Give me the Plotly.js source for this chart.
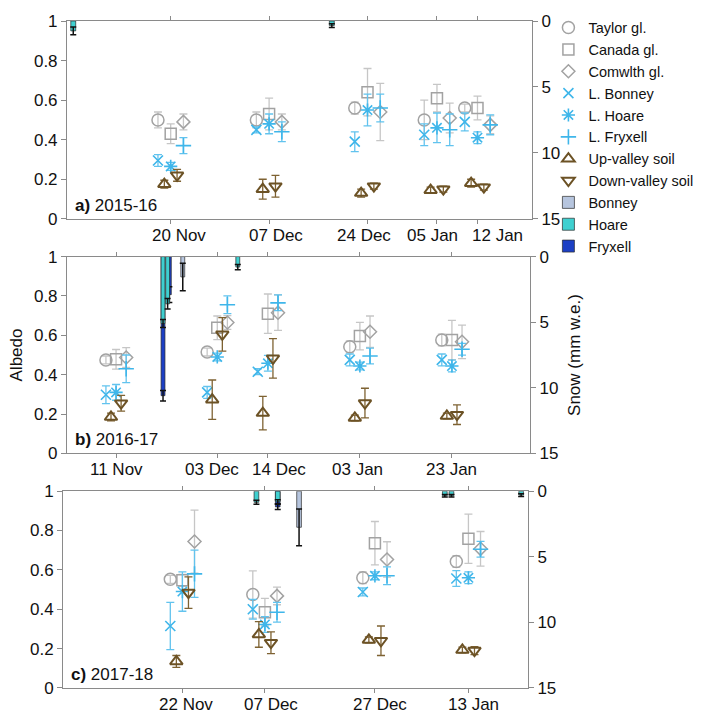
<!DOCTYPE html>
<html><head><meta charset="utf-8">
<script src="https://cdn.plot.ly/plotly-3.0.1.min.js"></script>
<style>html,body{margin:0;padding:0;background:#fff}#chart{width:725px;height:716px}</style>
</head><body><div id="chart"></div>
<script>
// ---------- DATA ----------
const seriesNames = ['Taylor gl.','Canada gl.','Comwlth gl.','L. Bonney','L. Hoare','L. Fryxell','Up-valley soil','Down-valley soil'];
const panelLabels = ['<b>a)</b> 2015-16','<b>b)</b> 2016-17','<b>c)</b> 2017-18'];

// sampling dates (ticks) and their labels per season
const datesA = ['2015-11-20','2015-12-07','2015-12-24','2016-01-05','2016-01-12'];
const datesB = ['2016-11-11','2016-12-03','2016-12-14','2017-01-03','2017-01-23'];
const datesC = ['2017-11-22','2017-12-07','2017-12-27','2018-01-13'];
const tickLabelsA = ['20 Nov','07 Dec','24 Dec','05 Jan','12 Jan'];
const tickLabelsB = ['11 Nov','03 Dec','14 Dec','03 Jan','23 Jan'];
const tickLabelsC = ['22 Nov','07 Dec','27 Dec','13 Jan'];

// Albedo, 2015-16
const taylorA   = [0.50, 0.50, 0.56, 0.50, 0.56];  const taylorAErr   = [0.04, 0.04, 0.03, 0.10, 0.02];
const canadaA   = [0.43, 0.53, 0.64, 0.61, 0.56];  const canadaAErr   = [0.05, 0.08, 0.12, 0.07, 0.06];
const comwlthA  = [0.49, 0.49, 0.54, 0.51, 0.475]; const comwlthAErr  = [0.04, 0.04, 0.145, 0.075, 0.045];
const bonneyA   = [0.295, 0.45, 0.39, 0.425, 0.49]; const bonneyAErr  = [0.03, 0.015, 0.05, 0.055, 0.045];
const hoareA    = [0.265, 0.48, 0.55, 0.46, 0.41]; const hoareAErr    = [0.02, 0.05, 0.08, 0.075, 0.03];
const fryxellA  = [0.37, 0.44, 0.56, 0.45, 0.475]; const fryxellAErr  = [0.04, 0.05, 0.07, 0.08, 0.05];
const upSoilA   = [0.175, 0.15, 0.13, 0.145, 0.18]; const upSoilAErr  = [0.02, 0.05, 0.02, 0.015, 0.02];
const downSoilA = [0.22, 0.165, 0.165, 0.15, 0.16]; const downSoilAErr = [0.03, 0.055, 0.015, 0.015, 0.015];

// Albedo, 2016-17
const taylorB   = [0.475, 0.515, null, 0.542, 0.576]; const taylorBErr = [0.02, 0.02, 0, 0.03, 0.03];
const canadaB   = [0.478, 0.638, 0.71, 0.596, 0.576]; const canadaBErr = [0.05, 0.06, 0.10, 0.07, 0.10];
const comwlthB  = [0.487, 0.665, 0.715, 0.618, 0.567]; const comwlthBErr = [0.05, 0.035, 0.09, 0.08, 0.085];
const bonneyB   = [0.298, 0.31, 0.415, 0.475, 0.475]; const bonneyBErr = [0.045, 0.03, 0.015, 0.03, 0.03];
const hoareB    = [0.31, 0.49, 0.458, 0.444, 0.444];   const hoareBErr  = [0.04, 0.02, 0.04, 0.02, 0.03];
const fryxellB  = [0.43, 0.755, 0.765, 0.495, 0.529];  const fryxellBErr = [0.07, 0.045, 0.04, 0.04, 0.03];
const upSoilB   = [0.185, 0.273, 0.205, 0.18, 0.19];   const upSoilBErr = [0.02, 0.10, 0.085, 0.015, 0.015];
const downSoilB = [0.255, 0.605, 0.483, 0.256, 0.197]; const downSoilBErr = [0.04, 0.085, 0.10, 0.075, 0.05];

// Albedo, 2017-18
const taylorC   = [0.552, 0.475, 0.56, 0.643]; const taylorCErr   = [0.02, 0.12, 0.03, 0.03];
const canadaC   = [0.547, 0.385, 0.736, 0.758]; const canadaCErr  = [0.03, 0.07, 0.11, 0.125];
const comwlthC  = [0.744, 0.468, 0.653, 0.707]; const comwlthCErr = [0.16, 0.045, 0.09, 0.088];
const bonneyC   = [0.315, 0.40, 0.488, 0.556]; const bonneyCErr   = [0.12, 0.05, 0.02, 0.04];
const hoareC    = [0.49, 0.323, 0.57, 0.56];   const hoareCErr    = [0.10, 0.04, 0.02, 0.03];
const fryxellC  = [0.58, 0.385, 0.57, 0.705];  const fryxellCErr  = [0.12, 0.05, 0.045, 0.04];
const upSoilC   = [0.135, 0.272, 0.244, 0.193]; const upSoilCErr  = [0.03, 0.065, 0.015, 0.015];
const downSoilC = [0.485, 0.23, 0.24, 0.19];   const downSoilCErr = [0.08, 0.055, 0.075, 0.02];

// Snow (mm w.e.) bars
const hoareSnowDatesA = ['2015-11-03 04:00', '2015-12-17 20:00'];
const hoareSnowA = [0.75, 0.35]; const hoareSnowAErr = [0.3, 0.15];

const bonneySnowDatesB = ['2016-11-25 12:00'];
const bonneySnowB = [1.55]; const bonneySnowBErr = [1.05];
const hoareSnowDatesB = ['2016-11-21 05:00', '2016-11-22 05:00', '2016-12-07 11:00'];
const hoareSnowB = [5.1, 3.6, 0.8]; const hoareSnowBErr = [0.3, 0.4, 0.2];
const fryxellSnowDatesB = ['2016-11-21 05:00', '2016-11-22 14:00'];
const fryxellSnowB = [10.6, 2.9]; const fryxellSnowBErr = [0.4, 0.6];

const bonneySnowDatesC = ['2017-12-13 05:00'];
const bonneySnowC = [2.75]; const bonneySnowCErr = [1.4];
const hoareSnowDatesC = ['2017-12-05 11:00', '2017-12-09 08:00', '2018-01-08 17:00', '2018-01-09 22:00', '2018-01-22 14:00'];
const hoareSnowC = [0.85, 0.8, 0.35, 0.35, 0.3]; const hoareSnowCErr = [0.15, 0.15, 0.1, 0.1, 0.1];
const fryxellSnowDatesC = ['2017-12-09 08:00'];
const fryxellSnowC = [1.2]; const fryxellSnowCErr = [0.2];

// ---------- STYLE ----------
const DAY = 864e5;
const GREY = '#a2a2a2', GREY_E = '#c6c6c6';
const BLUE = '#3fb6ea', BLUE_E = '#62c3ee';
const BROWN = '#6c5225', BROWN_E = '#7e6232';
const styles = [
  {symbol:'circle-open',        color:GREY,  ecolor:GREY_E,  size:12, lw:1.5, off:-2.2},
  {symbol:'square-open',        color:GREY,  ecolor:GREY_E,  size:11, lw:1.5, off:0},
  {symbol:'diamond-open',       color:GREY,  ecolor:GREY_E,  size:10, lw:1.5, off:2.2},
  {symbol:'x-thin-open',        color:BLUE,  ecolor:BLUE_E,  size:10, lw:1.6, off:-2.2},
  {symbol:'asterisk-open',      color:BLUE,  ecolor:BLUE_E,  size:11, lw:1.6, off:0},
  {symbol:'cross-thin-open',    color:BLUE,  ecolor:BLUE_E,  size:11, lw:1.6, off:2.2},
  {symbol:'triangle-up-open',   color:BROWN, ecolor:BROWN_E, size:11, lw:2, off:-1.1},
  {symbol:'triangle-down-open', color:BROWN, ecolor:BROWN_E, size:11, lw:2, off:1.1}
];
const barColors = {Bonney:'#b6c5de', Hoare:'#3fd0d0', Fryxell:'#1c3fc4'};
// horizontal nudges (px) of the date labels, as in the original figure
const labelShift = [[8, 7, -4, -4, 20], [0, -5, 11, -2, 0], [4, 6, 5, 5]];

const panels = [
  {dates:datesA, labels:tickLabelsA, xa:'x',  ya:'y',  ys:'y2',
   vals:[taylorA,canadaA,comwlthA,bonneyA,hoareA,fryxellA,upSoilA,downSoilA],
   errs:[taylorAErr,canadaAErr,comwlthAErr,bonneyAErr,hoareAErr,fryxellAErr,upSoilAErr,downSoilAErr],
   bars:[{name:'Hoare', d:hoareSnowDatesA, v:hoareSnowA, e:hoareSnowAErr}]},
  {dates:datesB, labels:tickLabelsB, xa:'x2', ya:'y3', ys:'y4',
   vals:[taylorB,canadaB,comwlthB,bonneyB,hoareB,fryxellB,upSoilB,downSoilB],
   errs:[taylorBErr,canadaBErr,comwlthBErr,bonneyBErr,hoareBErr,fryxellBErr,upSoilBErr,downSoilBErr],
   bars:[{name:'Fryxell', d:fryxellSnowDatesB, v:fryxellSnowB, e:fryxellSnowBErr, legend:true},
         {name:'Bonney', d:bonneySnowDatesB, v:bonneySnowB, e:bonneySnowBErr, legend:true},
         {name:'Hoare', d:hoareSnowDatesB, v:hoareSnowB, e:hoareSnowBErr, legend:true}]},
  {dates:datesC, labels:tickLabelsC, xa:'x3', ya:'y5', ys:'y6',
   vals:[taylorC,canadaC,comwlthC,bonneyC,hoareC,fryxellC,upSoilC,downSoilC],
   errs:[taylorCErr,canadaCErr,comwlthCErr,bonneyCErr,hoareCErr,fryxellCErr,upSoilCErr,downSoilCErr],
   bars:[{name:'Fryxell', d:fryxellSnowDatesC, v:fryxellSnowC, e:fryxellSnowCErr},
         {name:'Bonney', d:bonneySnowDatesC, v:bonneySnowC, e:bonneySnowCErr},
         {name:'Hoare', d:hoareSnowDatesC, v:hoareSnowC, e:hoareSnowCErr}]}
];
const barRank = {Bonney:9, Hoare:10, Fryxell:11};

const toMs = d => Date.parse(d + 'T00:00:00Z');

const traces = [];
const annotations = [];
panels.forEach((p, pi) => {
  seriesNames.forEach((name, si) => {
    const st = styles[si];
    traces.push({
      type:'scatter', mode:'markers', name:name,
      x:p.dates.map(d => toMs(d) + st.off*DAY), y:p.vals[si],
      xaxis:p.xa, yaxis:p.ya,
      legendgroup:name, showlegend:pi === 0, legendrank:si+1,
      marker:{symbol:st.symbol, size:st.size, color:st.color, line:{color:st.color, width:st.lw}},
      error_y:{type:'data', array:p.errs[si], color:st.ecolor, thickness:1.3, width:4},
      cliponaxis:false
    });
  });
  p.bars.forEach(b => {
    traces.push({
      type:'bar', name:b.name, x:b.d, y:b.v,
      xaxis:p.xa, yaxis:p.ys, width:0.85*DAY,
      legendgroup:'bar'+b.name, showlegend:!!b.legend, legendrank:barRank[b.name],
      marker:{color:barColors[b.name], line:{color:'#2b2b2b', width:0.7}},
      error_y:{type:'data', array:b.e, color:'#111', thickness:1.5, width:3}
    });
  });
  // date labels under each panel, placed on the date axis
  p.dates.forEach((d, i) => {
    annotations.push({
      xref:p.xa, yref:p.ya + ' domain', x:d, y:0, xanchor:'center', yanchor:'top',
      xshift:labelShift[pi][i], yshift:-5, text:p.labels[i], showarrow:false,
      font:{size:17, color:'#111'}
    });
  });
  annotations.push({
    xref:p.xa + ' domain', yref:p.ya + ' domain', x:0.012, y:0.01, xanchor:'left', yanchor:'bottom',
    text:panelLabels[pi], showarrow:false, font:{size:17, color:'#111'}
  });
});

// ---------- LAYOUT ----------
const AX = '#8a8a8a';
const xbase = {type:'date', showline:true, linecolor:AX, linewidth:1, mirror:'ticks', ticks:'outside',
  ticklen:4, tickcolor:AX, showgrid:false, zeroline:false, showticklabels:false};
const ybase = {range:[0,1], tickvals:[0,0.2,0.4,0.6,0.8,1], ticktext:['0','0.2','0.4','0.6','0.8','1'],
  showline:true, linecolor:AX, ticks:'outside', ticklen:5, tickcolor:AX, showgrid:false, zeroline:false,
  tickfont:{size:17, color:'#111'}};
const sbase = {side:'right', range:[15,0], tickvals:[0,5,10,15], showline:true, linecolor:AX,
  ticks:'outside', ticklen:5, tickcolor:AX, showgrid:false, zeroline:false, tickfont:{size:17, color:'#111'}};

const layout = {
  width:725, height:716,
  margin:{l:63, r:193, t:17, b:28},
  paper_bgcolor:'#fff', plot_bgcolor:'rgba(0,0,0,0)',
  font:{family:'Liberation Sans, Arial, sans-serif', size:16, color:'#111'},
  barmode:'overlay', showlegend:true,
  legend:{x:1.035, y:1.014, xanchor:'left', yanchor:'top', font:{size:14.5}, bgcolor:'rgba(0,0,0,0)',
          traceorder:'normal', tracegroupgap:0},
  xaxis: Object.assign({}, xbase, {domain:[0.0085,1], anchor:'y', range:['2015-11-02 02:00','2016-01-21 10:00'], tickvals:datesA}),
  yaxis: Object.assign({}, ybase, {domain:[0.7034,1], anchor:'x'}),
  yaxis2: Object.assign({}, sbase, {overlaying:'y', anchor:'x'}),
  xaxis2: Object.assign({}, xbase, {domain:[0.0085,0.996], anchor:'y3', range:['2016-10-31 08:00','2017-02-09 00:00'], tickvals:datesB}),
  yaxis3: Object.assign({}, ybase, {domain:[0.3517,0.6468], anchor:'x2', title:{text:'Albedo', font:{size:17}, standoff:6}}),
  yaxis4: Object.assign({}, sbase, {overlaying:'y3', anchor:'x2', title:{text:'Snow (mm w.e.)', font:{size:17}, standoff:10}}),
  xaxis3: Object.assign({}, xbase, {domain:[0,0.9915], anchor:'y5', range:['2017-10-31 07:00','2018-01-23 20:00'], tickvals:datesC}),
  yaxis5: Object.assign({}, ybase, {domain:[0,0.2951], anchor:'x3'}),
  yaxis6: Object.assign({}, sbase, {overlaying:'y5', anchor:'x3'}),
  annotations: annotations
};

Plotly.newPlot('chart', traces, layout, {displayModeBar:false, staticPlot:true});
</script>
</body></html>
